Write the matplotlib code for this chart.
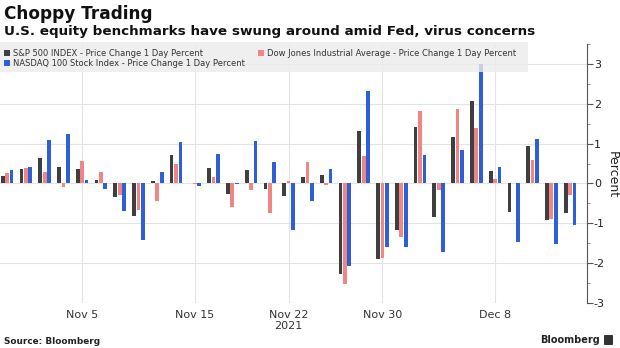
import matplotlib
matplotlib.use("Agg")
import matplotlib.pyplot as plt
import numpy as np
from matplotlib.patches import Rectangle, FancyBboxPatch

dates = ["Nov 1", "Nov 2", "Nov 3", "Nov 4", "Nov 5",
         "Nov 8", "Nov 9", "Nov 10", "Nov 11", "Nov 12",
         "Nov 15", "Nov 16", "Nov 17", "Nov 18", "Nov 19",
         "Nov 22", "Nov 23", "Nov 24", "Nov 26",
         "Nov 29", "Nov 30", "Dec 1", "Dec 2", "Dec 3",
         "Dec 6", "Dec 7", "Dec 8", "Dec 9", "Dec 10",
         "Dec 13", "Dec 14"]
spx = [0.18, 0.37, 0.65, 0.42, 0.37,
       0.09, -0.33, -0.82, 0.06, 0.72,
       0.00, 0.39, -0.26, 0.34, -0.14,
       -0.32, 0.17, 0.22, -2.27,
       1.32, -1.89, -1.18, 1.42, -0.84,
       1.17, 2.07, 0.31, -0.72, 0.95,
       -0.91, -0.74]
dow = [0.26, 0.39, 0.29, -0.09, 0.56,
       0.29, -0.29, -0.66, -0.44, 0.50,
       -0.01, 0.15, -0.58, -0.17, -0.75,
       0.05, 0.55, -0.03, -2.53,
       0.68, -1.86, -1.34, 1.82, -0.17,
       1.87, 1.40, 0.10, 0.00, 0.60,
       -0.89, -0.30]
ndx = [0.34, 0.42, 1.08, 1.24, 0.08,
       -0.13, -0.70, -1.43, 0.28, 1.05,
       -0.06, 0.73, -0.01, 1.07, 0.54,
       -1.16, -0.44, 0.37, -2.08,
       2.33, -1.60, -1.59, 0.71, -1.73,
       0.85, 3.00, 0.41, -1.48, 1.12,
       -1.53, -1.04]
tick_dates = ["Nov 5", "Nov 15", "Nov 22", "Nov 30", "Dec 8"]
tick_labels = ["Nov 5", "Nov 15", "Nov 22\n2021", "Nov 30", "Dec 8"]
series_names = ["S&P 500 INDEX - Price Change 1 Day Percent",
                "Dow Jones Industrial Average - Price Change 1 Day Percent",
                "NASDAQ 100 Stock Index - Price Change 1 Day Percent"]
colors = ["#3f3f3f", "#f08585", "#2f5fd6"]

W, H = 620, 348
fig = plt.figure(figsize=(W / 100, H / 100), dpi=100)
fig.patch.set_facecolor("white")

def fx(px):
    return px / W

def fy(py):
    return 1 - py / H

ax = fig.add_axes([fx(0), fy(303), fx(587) - fx(0), fy(44) - fy(303)])
x = np.arange(len(dates))
bw = 0.2
off = 0.235
for i, (vals, c) in enumerate(zip([spx, dow, ndx], colors)):
    ax.bar(x + (i - 1) * off, vals, width=bw, color=c, zorder=3, linewidth=0)

ax.set_xlim(-0.38, 30.9)
ax.set_ylim(-3, 3.5)
ax.set_yticks(np.arange(-3, 4, 1))
ax.set_yticks(np.arange(-3, 3.6, 0.5), minor=True)
ax.yaxis.tick_right()
ax.set_yticklabels([str(v) for v in range(-3, 4)])
ax.tick_params(axis="y", which="major", length=4, width=0.8, color="#555555",
               labelsize=8, pad=1, labelcolor="#222222")
ax.tick_params(axis="y", which="minor", length=2, width=0.6, color="#777777")
fig.text(fx(612), fy(175), "Percent", rotation=270, fontsize=9, color="#222222",
         ha="center", va="center")

ax.set_xticks([dates.index(d) for d in tick_dates])
ax.set_xticklabels(tick_labels)
ax.tick_params(axis="x", length=0, labelsize=8, pad=5, labelcolor="#333333")
for lab in ax.get_xticklabels():
    lab.set_linespacing(1.15)

ax.grid(True, axis="both", which="major", color="#e3e3e3", linewidth=0.8, zorder=0)
for s in ["top", "left", "bottom"]:
    ax.spines[s].set_visible(False)
ax.spines["right"].set_color("#555555")
ax.spines["right"].set_linewidth(0.8)

# manual legend overlay
fig.patches.append(Rectangle((fx(0), fy(72)), fx(528), fy(42) - fy(72),
                             transform=fig.transFigure, facecolor="#ececec",
                             alpha=0.8, edgecolor="none", zorder=5))
leg_pos = [(4, 53), (258, 53), (4, 63)]
for (px, py), name, c in zip(leg_pos, series_names, colors):
    fig.patches.append(Rectangle((fx(px), fy(py + 3)), fx(6), fy(py - 3) - fy(py + 3),
                                 transform=fig.transFigure, facecolor=c,
                                 edgecolor="none", zorder=6))
    fig.text(fx(px + 9), fy(py), name, fontsize=6.0, va="center", ha="left",
             color="#333333", zorder=7)

fig.text(fx(4), fy(19), "Choppy Trading", fontsize=12.2, fontweight="bold",
         va="baseline", ha="left", color="#111111")
fig.text(fx(4), fy(35), "U.S. equity benchmarks have swung around amid Fed, virus concerns",
         fontsize=9.7, fontweight="bold", va="baseline", ha="left", color="#111111")
fig.text(fx(4), fy(341), "Source: Bloomberg", fontsize=6.4, fontweight="bold",
         va="center", ha="left", color="#222222")
fig.text(fx(600), fy(340), "Bloomberg", fontsize=7.0, fontweight="bold",
         va="center", ha="right", color="#222222")
fig.patches.append(FancyBboxPatch((fx(604), fy(345)), fx(9), fy(335) - fy(345),
                                  boxstyle="round,pad=0,rounding_size=0.002",
                                  transform=fig.transFigure, facecolor="#333333",
                                  edgecolor="none", zorder=6))

fig.savefig("out.png", dpi=100, facecolor="white")
